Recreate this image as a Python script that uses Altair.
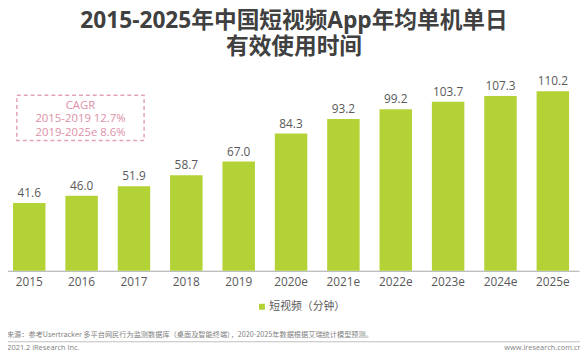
import altair as alt
import pandas as pd

years = ["2015", "2016", "2017", "2018", "2019", "2020e", "2021e", "2022e", "2023e", "2024e", "2025e"]
values = [41.6, 46.0, 51.9, 58.7, 67.0, 84.3, 93.2, 99.2, 103.7, 107.3, 110.2]
series_name = "短视频（分钟）"
title_lines = ["2015-2025年中国短视频App年均单机单日", "有效使用时间"]
cagr_lines = ["CAGR", "2015-2019 12.7%", "2019-2025e 8.6%"]
source_text = "来源：参考Usertracker 多平台网民行为监测数据库（桌面及智能终端），2020-2025年数据根据艾瑞统计模型预测。"
footer_left = "©2021.2 iResearch Inc."
footer_right = "www.iresearch.com.cn"

GREEN = "#b3d236"
PINK = "#dc8fa7"
TXT = "#595959"
NUM_FONT = "Open Sans"
CJK_FONT = "Noto Sans CJK SC"

df = pd.DataFrame({"year": years, "value": values, "series": [series_name] * len(years)})

x_enc = alt.X(
    "year:N",
    sort=years,
    scale=alt.Scale(range=[-5, 579], paddingInner=0.38, paddingOuter=0.19),
    axis=alt.Axis(
        title=None,
        ticks=False,
        domainColor="#a6a6a6",
        domainWidth=1,
        labelFont=NUM_FONT,
        labelFontSize=12,
        labelColor=TXT,
        labelPadding=6,
        labelAngle=0,
    ),
)
y_enc = alt.Y("value:Q", scale=alt.Scale(domain=[0, 123.5], nice=False, zero=True), axis=None)

base = alt.Chart(df)

bars = base.mark_bar().encode(
    x=x_enc,
    y=y_enc,
    color=alt.Color(
        "series:N",
        scale=alt.Scale(range=[GREEN]),
        legend=alt.Legend(
            title=None,
            orient="none",
            legendX=252,
            legendY=235,
            symbolType="square",
            symbolSize=36,
            symbolStrokeWidth=0,
            labelFont=CJK_FONT,
            labelFontSize=11,
            labelColor=TXT,
            labelOffset=2,
        ),
    ),
)

labels = base.mark_text(dy=-6, baseline="alphabetic", font=NUM_FONT, fontSize=12, color=TXT).encode(
    x=alt.X("year:N", sort=years), y=y_enc, text=alt.Text("value:Q", format=".1f")
)

ann = pd.DataFrame({"a": [0]})

box = alt.Chart(ann).mark_rect(fill=None, stroke="#e2a3b5", strokeWidth=1.5, strokeDash=[4, 3]).encode(
    x=alt.value(9), x2=alt.value(138), y=alt.value(26), y2=alt.value(72)
)

cagr_layers = []
for txt, yy in zip(cagr_lines, [37, 50.5, 64]):
    cagr_layers.append(
        alt.Chart(ann).mark_text(font=NUM_FONT, fontSize=11.5, color=PINK, baseline="middle", align="center", text=txt).encode(
            x=alt.value(73.5), y=alt.value(yy)
        )
    )

src = alt.Chart(ann).mark_text(font=CJK_FONT, fontSize=7.3, color="#7f7f7f", align="right", baseline="middle", text=source_text).encode(
    x=alt.value(370), y=alt.value(269)
)
sep = alt.Chart(ann).mark_rule(color="#bfbfbf", strokeWidth=1).encode(
    x=alt.value(-8), x2=alt.value(580), y=alt.value(276)
)
foot_l = alt.Chart(ann).mark_text(font=NUM_FONT, fontSize=7.5, color="#7f7f7f", align="left", baseline="middle", text=footer_left).encode(
    x=alt.value(-7), y=alt.value(282)
)
foot_r = alt.Chart(ann).mark_text(font=NUM_FONT, fontSize=7.5, color="#7f7f7f", align="right", baseline="middle", text=footer_right).encode(
    x=alt.value(582), y=alt.value(282)
)

chart = alt.layer(bars, labels, box, *cagr_layers, src, sep, foot_l, foot_r).properties(
    width=580,
    height=204,
    autosize=alt.AutoSizeParams(type="none"),
    padding={"left": 0, "top": 60, "right": 0, "bottom": 83},
    title=alt.TitleParams(
        text=title_lines,
        font="Open Sans, Noto Sans CJK SC",
        fontSize=23,
        fontWeight="bold",
        color="#404040",
        lineHeight=26,
        anchor="middle",
        offset=11,
    ),
).configure_view(stroke=None)

chart.save("out.html", embed_options={"renderer": "svg", "actions": False})
